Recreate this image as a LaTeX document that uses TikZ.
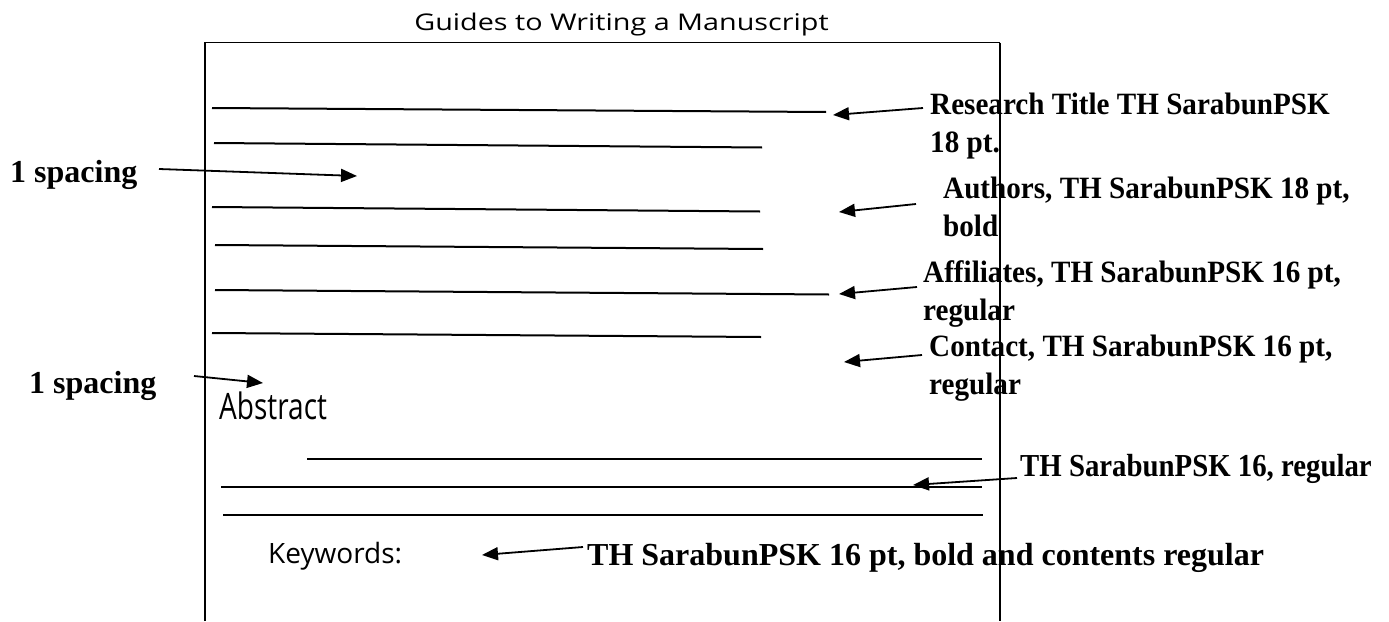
\documentclass[tikz,border=0pt]{standalone}
\usepackage{fontspec}
\usepackage{graphicx}
\setmainfont{Liberation Serif}
\newfontfamily\uisans{Open Sans}
\usetikzlibrary{arrows.meta}
\newcommand{\labeltwo}[2]{\scalebox{0.94}[1]{\begin{tabular}[b]{@{}l@{}}#1\\#2\end{tabular}}}
\begin{document}
\begin{tikzpicture}[x=1pt,y=-1pt,
  lbl/.style={anchor=base west,inner sep=0pt,font=\fontsize{31}{38}\selectfont\bfseries},
  ui/.style={anchor=base west,inner sep=0pt,font=\uisans\fontsize{28}{34}\selectfont},
  arr/.style={line width=1.8pt,-{Triangle[length=16pt,width=13pt]}},
  rule/.style={line width=2pt},
  frame/.style={line width=1.9pt},
]
\useasboundingbox (0,0) rectangle (1389,621);
% page frame
\draw[frame] (205,621) -- (205,42.5) -- (1000,42.5);
\draw[line width=1.3pt] (1000,42.5) -- (1000,621);
% title
\node[ui,anchor=base,font=\uisans\fontsize{23}{27}\selectfont] (title) at (621.5,30.5) {\scalebox{1.25}[1]{Guides to Writing a Manuscript}};
% ruled lines
\draw[rule] (212,108) -- (826,112);
\draw[rule] (214,143) -- (762,147.5);
\draw[rule] (212,207) -- (760,211.5);
\draw[rule] (215,245) -- (763,249);
\draw[rule] (215,290) -- (829,294.5);
\draw[rule] (212,333) -- (761,337);
\draw[rule] (307,459) -- (982,459);
\draw[rule] (221,487) -- (982,487);
\draw[rule] (223,515) -- (983,515);
% labels (anchored at the baseline of their last line)
\node[lbl] (rt) at (930,152) {\labeltwo{Research Title TH SarabunPSK}{18 pt.}};
\node[lbl] (au) at (943,236) {\labeltwo{Authors, TH SarabunPSK 18 pt,}{bold}};
\node[lbl] (af) at (923,320) {\labeltwo{Affiliates, TH SarabunPSK 16 pt,}{regular}};
\node[lbl] (ct) at (929,394) {\labeltwo{Contact, TH SarabunPSK 16 pt,}{regular}};
\node[lbl,font=\fontsize{32}{36}\selectfont\bfseries] (sp1) at (10,182) {1 spacing};
\node[lbl,font=\fontsize{32}{36}\selectfont\bfseries] (sp2) at (29,393) {1 spacing};
\node[lbl,font=\fontsize{32}{38}\selectfont\bfseries] (abl) at (1020,476) {\scalebox{0.9}[1]{TH SarabunPSK 16, regular}};
\node[lbl,font=\fontsize{32}{38}\selectfont\bfseries] (kwl) at (587,565) {TH SarabunPSK 16 pt, bold and contents regular};
\node[ui] (abs) at (219,419) {\scalebox{1}[1.3]{Abstract}};
\node[ui] (kw) at (268,563) {Keywords:};
% arrow ends
\coordinate (t1) at (923,108);  \coordinate (h1) at (833,115);
\coordinate (t2) at (916,204);  \coordinate (h2) at (839,212);
\coordinate (t3) at (917,287);  \coordinate (h3) at (839,294);
\coordinate (t4) at (922,355);  \coordinate (h4) at (844,362);
\coordinate (t5) at (159,169);  \coordinate (h5) at (357,176);
\coordinate (t6) at (194,376);  \coordinate (h6) at (263,383);
\coordinate (t7) at (1017,478); \coordinate (h7) at (913,485);
\coordinate (t8) at (583,547);  \coordinate (h8) at (482,555);
\draw[arr] (t1) -- (h1);
\draw[arr] (t2) -- (h2);
\draw[arr] (t3) -- (h3);
\draw[arr] (t4) -- (h4);
\draw[arr] (t5) -- (h5);
\draw[arr] (t6) -- (h6);
\draw[arr] (t7) -- (h7);
\draw[arr] (t8) -- (h8);
\end{tikzpicture}
\end{document}
